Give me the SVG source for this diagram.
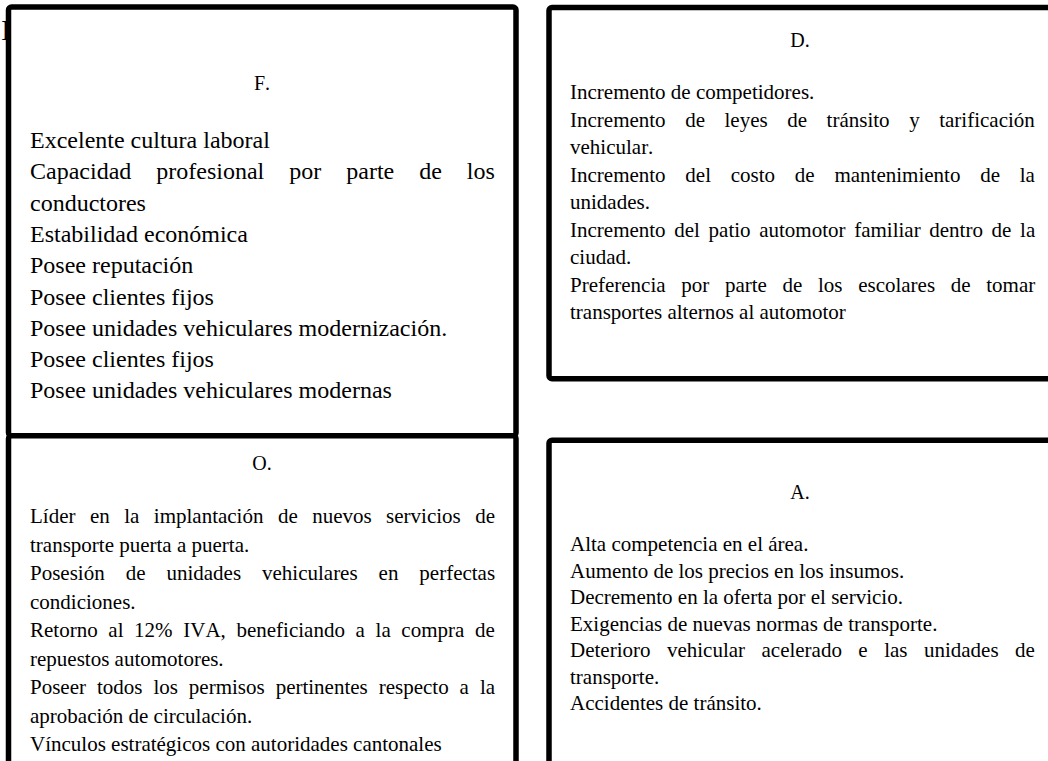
<svg xmlns="http://www.w3.org/2000/svg" width="1048" height="761" viewBox="0 0 1048 761">
  <style>
    .box { fill: #ffffff; stroke: #000000; stroke-width: 5.5; stroke-linejoin: round; }
    text { font-family: "Liberation Serif", "Times New Roman", serif; fill: #000000; font-kerning: none; }
    .title { font-size: 20px; text-anchor: middle; }
    .big { font-size: 24px; }
    .body { font-size: 21px; }
  </style>

  <!-- stray glyph peeking out behind the first frame -->
  <text x="1" y="40" style="font-size:30px">I</text>

  <!-- F: strengths -->
  <g id="box-F">
    <rect class="box" x="8.5" y="7" width="507.5" height="428.7" rx="3"/>
    <text class="title" x="262" y="90">F.</text>
    <text class="big" x="30" y="148">Excelente cultura laboral</text>
    <text class="big" x="30" y="179.3" style="word-spacing:19px">Capacidad profesional por parte de los</text>
    <text class="big" x="30" y="210.6">conductores</text>
    <text class="big" x="30" y="241.9">Estabilidad económica</text>
    <text class="big" x="30" y="273.2">Posee reputación</text>
    <text class="big" x="30" y="304.5">Posee clientes fijos</text>
    <text class="big" x="30" y="335.8">Posee unidades vehiculares modernización.</text>
    <text class="big" x="30" y="367.1">Posee clientes fijos</text>
    <text class="big" x="30" y="398.4">Posee unidades vehiculares modernas</text>
  </g>

  <!-- O: opportunities -->
  <g id="box-O">
    <rect class="box" x="8.5" y="435.7" width="507.5" height="360" rx="3"/>
    <text class="title" x="262" y="470">O.</text>
    <text class="body" x="30" y="523" style="word-spacing:9.2px">Líder en la implantación de nuevos servicios de</text>
    <text class="body" x="30" y="551.5">transporte puerta a puerta.</text>
    <text class="body" x="30" y="580" style="word-spacing:15.7px">Posesión de unidades vehiculares en perfectas</text>
    <text class="body" x="30" y="608.5">condiciones.</text>
    <text class="body" x="30" y="637" style="word-spacing:5.4px">Retorno al 12% IVA, beneficiando a la compra de</text>
    <text class="body" x="30" y="665.5">repuestos automotores.</text>
    <text class="body" x="30" y="694" style="word-spacing:5.7px">Poseer todos los permisos pertinentes respecto a la</text>
    <text class="body" x="30" y="722.5">aprobación de circulación.</text>
    <text class="body" x="30" y="751">Vínculos estratégicos con autoridades cantonales</text>
  </g>

  <!-- D: weaknesses -->
  <g id="box-D">
    <rect class="box" x="549" y="7.5" width="510" height="371.2" rx="3"/>
    <text class="title" x="800" y="47">D.</text>
    <text class="body" x="570" y="99">Incremento de competidores.</text>
    <text class="body" x="570" y="126.5" style="word-spacing:14.3px">Incremento de leyes de tránsito y tarificación</text>
    <text class="body" x="570" y="154">vehicular.</text>
    <text class="body" x="570" y="181.5" style="word-spacing:14.5px">Incremento del costo de mantenimiento de la</text>
    <text class="body" x="570" y="209">unidades.</text>
    <text class="body" x="570" y="236.5" style="word-spacing:3.4px">Incremento del patio automotor familiar dentro de la</text>
    <text class="body" x="570" y="264">ciudad.</text>
    <text class="body" x="570" y="291.5" style="word-spacing:10.4px">Preferencia por parte de los escolares de tomar</text>
    <text class="body" x="570" y="319">transportes alternos al automotor</text>
  </g>

  <!-- A: threats -->
  <g id="box-A">
    <rect class="box" x="549" y="440.3" width="510" height="360" rx="3"/>
    <text class="title" x="800" y="499">A.</text>
    <text class="body" x="570" y="551">Alta competencia en el área.</text>
    <text class="body" x="570" y="577.5">Aumento de los precios en los insumos.</text>
    <text class="body" x="570" y="604">Decremento en la oferta por el servicio.</text>
    <text class="body" x="570" y="630.5">Exigencias de nuevas normas de transporte.</text>
    <text class="body" x="570" y="657" style="word-spacing:11.2px">Deterioro vehicular acelerado e las unidades de</text>
    <text class="body" x="570" y="683.5">transporte.</text>
    <text class="body" x="570" y="710">Accidentes de tránsito.</text>
  </g>

  <!-- the four quadrants are not linked -->
  <g id="connectors"/>
</svg>
